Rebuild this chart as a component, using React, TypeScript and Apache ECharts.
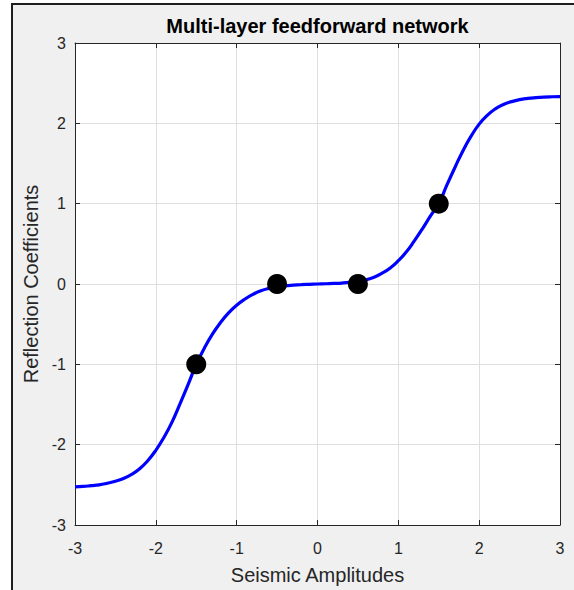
import React, { useEffect, useRef } from "react";
import * as echarts from "echarts";

const TITLE = "Multi-layer feedforward network";
const X_NAME = "Seismic Amplitudes";
const Y_NAME = "Reflection Coefficients";

const curveX = [
  -3.0, -2.9, -2.8, -2.7, -2.6, -2.5, -2.4, -2.3, -2.2, -2.1,
  -2.0, -1.9, -1.8, -1.7, -1.6, -1.5, -1.4, -1.3, -1.2, -1.1,
  -1.0, -0.9, -0.8, -0.7, -0.6, -0.5, -0.4, -0.3, -0.2, -0.1,
  0.0, 0.1, 0.2, 0.3, 0.4, 0.5, 0.6, 0.7, 0.8, 0.9,
  1.0, 1.1, 1.2, 1.3, 1.4, 1.5, 1.6, 1.7, 1.8, 1.9,
  2.0, 2.1, 2.2, 2.3, 2.4, 2.5, 2.6, 2.7, 2.8, 2.9, 3.0,
];
const curveY = [
  -2.525, -2.52, -2.51, -2.5, -2.48, -2.455, -2.42, -2.37, -2.3, -2.2,
  -2.07, -1.91, -1.72, -1.49, -1.25, -1.0, -0.8, -0.625, -0.48, -0.36,
  -0.265, -0.19, -0.13, -0.085, -0.055, -0.035, -0.022, -0.014, -0.008, -0.004,
  0.0, 0.003, 0.007, 0.012, 0.02, 0.032, 0.052, 0.085, 0.135, 0.2,
  0.29, 0.4, 0.54, 0.69, 0.85, 1.0, 1.23, 1.45, 1.66, 1.84,
  1.99, 2.1, 2.18, 2.235, 2.27, 2.295, 2.31, 2.32, 2.327, 2.331, 2.333,
];

const pointsX = [-1.5, -0.5, 0.5, 1.5];
const pointsY = [-1, 0, 0, 1];

const FONT = "'Liberation Sans', Arial, Helvetica, sans-serif";
const TXT = "#262626";

export default function App() {
  const ref = useRef<HTMLDivElement>(null);
  useEffect(() => {
    if (!ref.current) return;
    const chart = echarts.init(ref.current, undefined, { renderer: "svg" });
    const axisCommon = {
      type: "value" as const,
      min: -3,
      max: 3,
      interval: 1,
      axisLine: { show: true, onZero: false, lineStyle: { color: TXT, width: 1 } },
      axisTick: { show: true, inside: true, length: 5, lineStyle: { color: TXT } },
      splitLine: { show: false },
    };
    chart.setOption({
      animation: false,
      backgroundColor: "transparent",
      textStyle: { fontFamily: FONT },
      graphic: [
        {
          type: "text",
          x: 317.5,
          y: 26,
          style: {
            text: TITLE,
            textAlign: "center",
            textVerticalAlign: "middle",
            font: `bold 20px ${FONT}`,
            fill: "#000",
          },
        },
      ],
      grid: {
        left: 75,
        top: 43,
        right: 14,
        bottom: 64,
        show: true,
        backgroundColor: "#ffffff",
        borderWidth: 0,
      },
      xAxis: [
        {
          ...axisCommon,
          position: "bottom",
          name: X_NAME,
          nameLocation: "middle",
          nameGap: 40,
          nameTextStyle: { fontSize: 20, color: TXT, fontFamily: FONT },
          axisLabel: { fontSize: 16, color: TXT, margin: 15, fontFamily: FONT },
          splitLine: { show: true, lineStyle: { color: "#dfdfdf", width: 1 } },
        },
        {
          ...axisCommon,
          position: "top",
          axisLabel: { show: false },
        },
      ],
      yAxis: [
        {
          ...axisCommon,
          position: "left",
          name: Y_NAME,
          nameLocation: "middle",
          nameGap: 31,
          nameTextStyle: { fontSize: 20, color: TXT, fontFamily: FONT },
          axisLabel: { fontSize: 16, color: TXT, margin: 9, fontFamily: FONT },
          splitLine: { show: true, lineStyle: { color: "#dfdfdf", width: 1 } },
        },
        {
          ...axisCommon,
          position: "right",
          axisLabel: { show: false },
        },
      ],
      series: [
        {
          type: "line",
          data: curveX.map((x, i) => [x, curveY[i]]),
          smooth: true,
          showSymbol: false,
          lineStyle: { color: "#0000ff", width: 3.2 },
          z: 2,
        },
        {
          type: "scatter",
          data: pointsX.map((x, i) => [x, pointsY[i]]),
          symbol: "circle",
          symbolSize: 20,
          itemStyle: { color: "#000000", opacity: 1 },
          z: 3,
        },
      ],
    });
    return () => chart.dispose();
  }, []);
  return (
    <div style={{ position: "absolute", left: 0, top: 0, width: 574, height: 590, background: "#ffffff", overflow: "hidden" }}>
      <div
        style={{
          position: "absolute",
          left: 11,
          top: 3,
          right: 0,
          bottom: 0,
          background: "#f0f0f0",
          borderLeft: "2px solid #1e1e1e",
          borderTop: "2px solid #1e1e1e",
        }}
      />
      <div ref={ref} style={{ position: "absolute", left: 0, top: 0, width: 574, height: 590 }} />
    </div>
  );
}
